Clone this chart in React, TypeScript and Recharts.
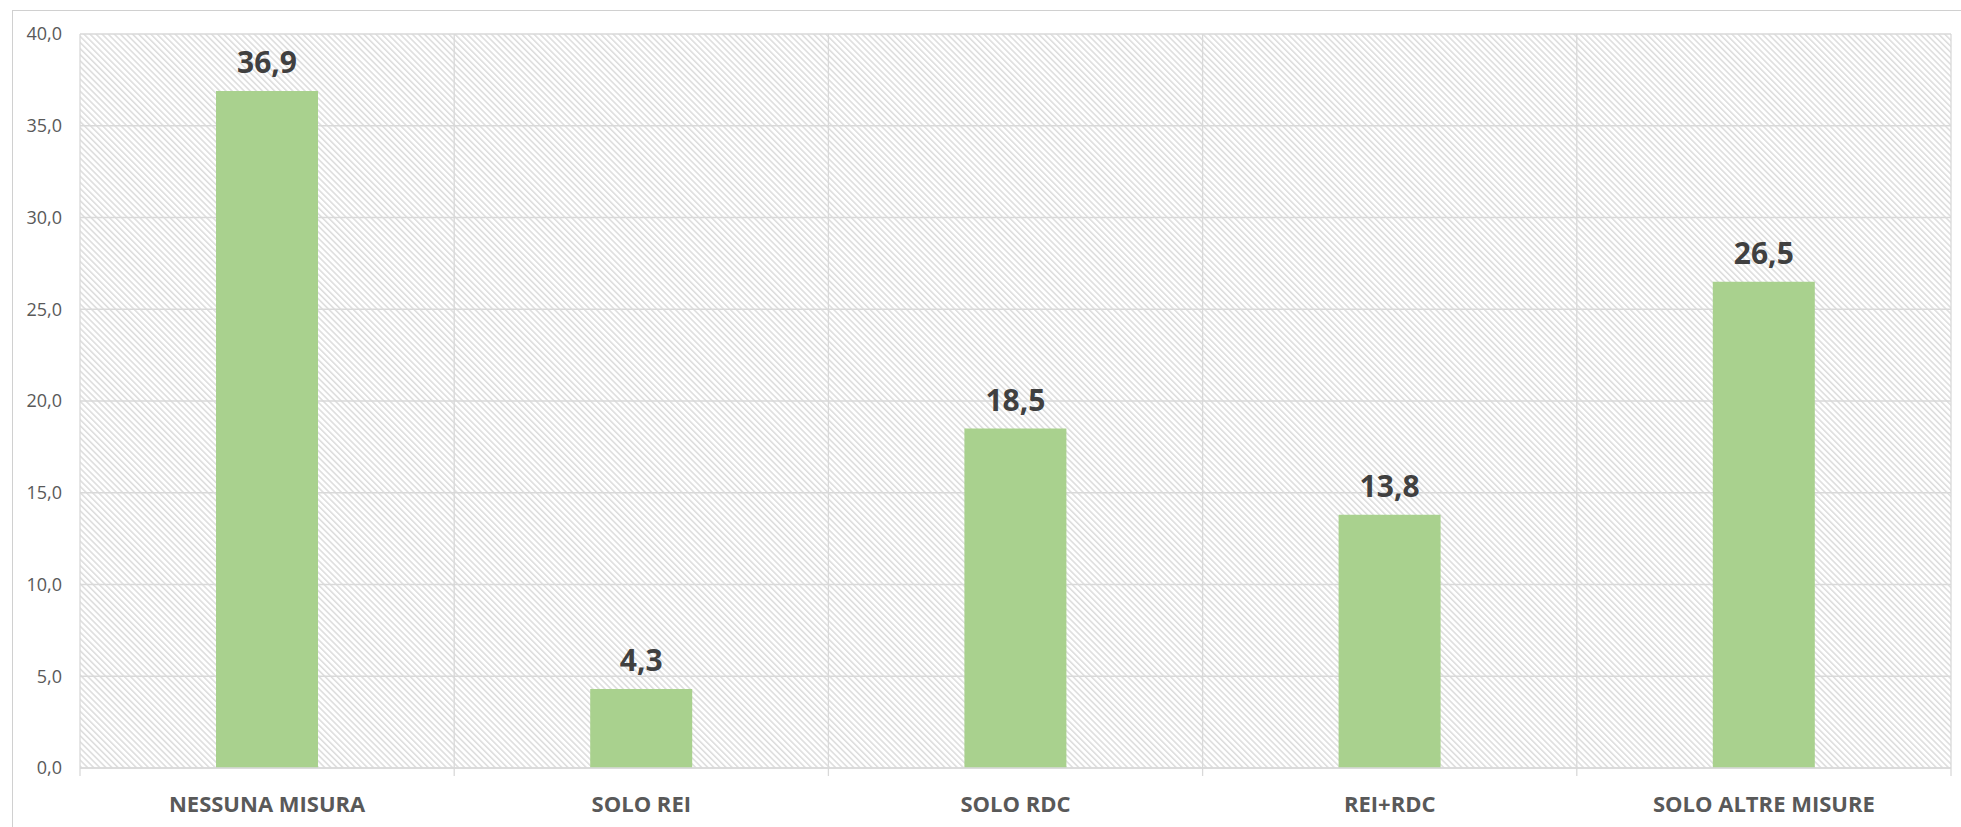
import React from 'react';
import { BarChart, Bar, XAxis, YAxis, CartesianGrid, LabelList } from 'recharts';

const categories = ['NESSUNA MISURA', 'SOLO REI', 'SOLO RDC', 'REI+RDC', 'SOLO ALTRE MISURE'];
const values = [36.9, 4.3, 18.5, 13.8, 26.5];
const yTicks = [0, 5, 10, 15, 20, 25, 30, 35, 40];

const data = categories.map((name, i) => ({ name, value: values[i] }));

const FONT = '"Open Sans", "Noto Sans", sans-serif';
const GRID = '#d9d9d9';
const LABEL_GAP = 28;
const TICK_LEN = 8;

const fmt = (v: number) => Number(v).toFixed(1).replace('.', ',');

// category label plus the small boundary ticks Excel draws between categories
const CategoryTick = (props: any) => {
  const { x, y, payload, index } = props;
  const half = payload?.offset ?? 0;
  const axisY = y - LABEL_GAP;
  const isLast = index === categories.length - 1;
  return (
    <g>
      <line x1={x - half} x2={x - half} y1={axisY} y2={axisY + TICK_LEN} stroke={GRID} strokeWidth={1.3} />
      {isLast && (
        <line x1={x + half} x2={x + half} y1={axisY} y2={axisY + TICK_LEN} stroke={GRID} strokeWidth={1.3} />
      )}
      <text
        x={x}
        y={y}
        dy="0.71em"
        textAnchor="middle"
        fill="#595959"
        fontSize={22}
        fontWeight={700}
        fontFamily={FONT}
      >
        {payload.value}
      </text>
    </g>
  );
};

const App: React.FC = () => {
  return (
    <div style={{ position: 'absolute', left: 0, top: 0, width: 1961, height: 827, overflow: 'hidden', background: '#fff' }}>
      <svg width={0} height={0} style={{ position: 'absolute' }}>
        <defs>
          <pattern id="hatch" patternUnits="userSpaceOnUse" width={4.3} height={4.3} patternTransform="rotate(-45)">
            <rect width={4.3} height={4.3} fill="#ffffff" />
            <line x1={0.8} y1={0} x2={0.8} y2={4.3} stroke="#d6d6d6" strokeWidth={1.3} />
          </pattern>
        </defs>
      </svg>
      <div
        style={{
          position: 'absolute',
          left: 12,
          top: 10,
          width: 2000,
          height: 900,
          border: '1px solid #d0d0d0',
        }}
      />
      <div style={{ position: 'absolute', left: 0, top: 0 }}>
        <BarChart
          width={1961}
          height={827}
          data={data}
          margin={{ top: 34, right: 10, bottom: 0, left: 0 }}
        >
          <CartesianGrid
            stroke={GRID}
            strokeWidth={1.3}
            fill="url(#hatch)"
            fillOpacity={1}
            verticalCoordinatesGenerator={({ offset }: any) =>
              categories.map((_, i) => offset.left + (i * offset.width) / categories.length).concat(offset.left + offset.width)
            }
          />
          <XAxis
            dataKey="name"
            interval={0}
            height={59}
            axisLine={{ stroke: GRID, strokeWidth: 1.3 }}
            tickLine={false}
            tickSize={0}
            tickMargin={LABEL_GAP}
            tick={<CategoryTick />}
          />
          <YAxis
            width={80}
            domain={[0, 40]}
            ticks={yTicks}
            axisLine={false}
            tickLine={false}
            tickSize={0}
            tickMargin={18}
            tickFormatter={fmt}
            tick={{ fill: '#595959', fontSize: 18, fontFamily: FONT }}
          />
          <Bar dataKey="value" fill="#a9d18e" barSize={102} isAnimationActive={false}>
            <LabelList
              dataKey="value"
              position="top"
              offset={18}
              formatter={(v: any) => fmt(v)}
              style={{ fill: '#404040', fontSize: 30, fontWeight: 700, fontFamily: FONT }}
            />
          </Bar>
        </BarChart>
      </div>
    </div>
  );
};

export default App;
